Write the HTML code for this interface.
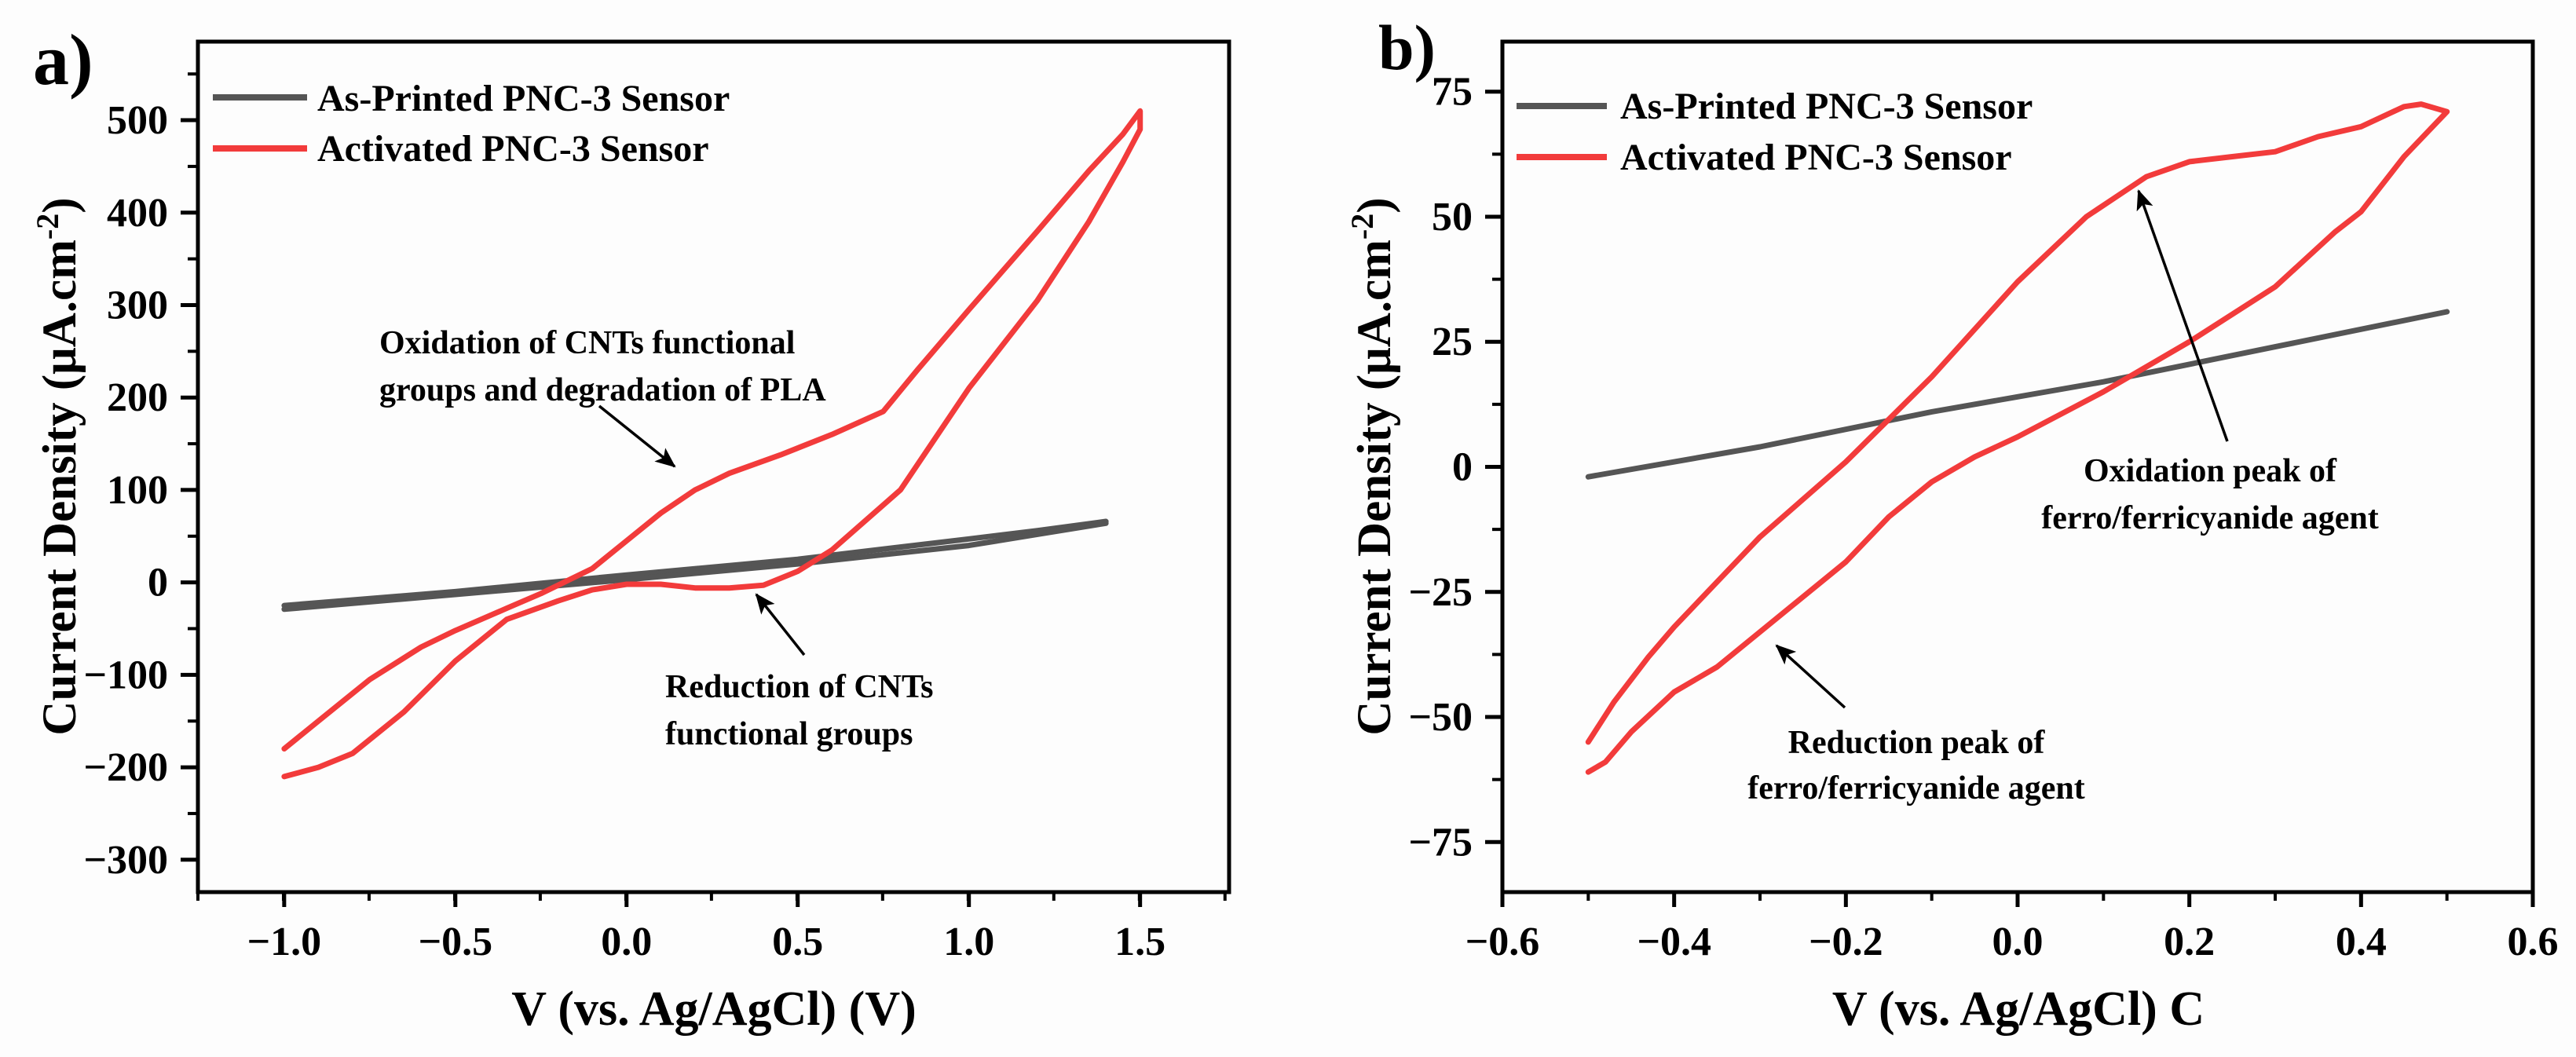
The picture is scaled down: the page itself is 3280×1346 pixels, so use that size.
<!DOCTYPE html>
<html><head><meta charset="utf-8"><style>
html,body{margin:0;padding:0;background:#fdfdfd;}
svg{display:block;font-family:"Liberation Serif",serif;font-weight:bold;}
</style></head><body>
<svg id="fig" width="3280" height="1346" viewBox="0 0 3280 1346" xmlns="http://www.w3.org/2000/svg">
<rect width="3280" height="1346" fill="#fdfdfd"/>
<g id="pa"></g>
<g id="pb"></g>
</svg>
<script>
// Panel a data
const aGrayFwdV = [-1.0,-0.5,0.0,0.5,1.0,1.2,1.4];
const aGrayFwdI = [-25,-10,8,25,47,56,66];
const aGrayRevV = [1.4,1.2,1.0,0.5,0.0,-0.5,-1.0];
const aGrayRevI = [64,52,40,20,3,-13,-29];
const aRedV = [-1.0,-0.9,-0.75,-0.6,-0.5,-0.35,-0.25,-0.1,0.0,0.1,0.2,0.3,0.45,0.6,0.75,0.85,1.0,1.2,1.35,1.45,1.5,1.5,1.45,1.35,1.2,1.0,0.8,0.6,0.5,0.4,0.3,0.2,0.1,0.0,-0.1,-0.2,-0.35,-0.5,-0.65,-0.8,-0.9,-1.0];
const aRedI = [-180,-150,-105,-70,-52,-28,-12,15,45,75,100,118,138,160,185,230,295,380,445,485,510,490,455,390,305,210,100,35,12,-3,-6,-6,-2,-2,-8,-20,-40,-85,-140,-185,-200,-210];
const aXTicks = [-1.0,-0.5,0.0,0.5,1.0,1.5];
const aXLabels = ["\u22121.0","\u22120.5","0.0","0.5","1.0","1.5"];
const aYTicks = [-300,-200,-100,0,100,200,300,400,500];
const aYLabels = ["\u2212300","\u2212200","\u2212100","0","100","200","300","400","500"];
// Panel b data
const bGrayV = [-0.5,-0.3,-0.1,0.0,0.1,0.3,0.5];
const bGrayI = [-2,4,11,14,17,24,31];
const bRedV = [-0.5,-0.47,-0.43,-0.4,-0.35,-0.3,-0.2,-0.1,0.0,0.08,0.15,0.2,0.25,0.3,0.35,0.4,0.45,0.47,0.5,0.5,0.45,0.4,0.37,0.3,0.2,0.1,0.0,-0.05,-0.1,-0.15,-0.2,-0.3,-0.35,-0.4,-0.45,-0.48,-0.5];
const bRedI = [-55,-47,-38,-32,-23,-14,1,18,37,50,58,61,62,63,66,68,72,72.5,71,71,62,51,47,36,25,15,6,2,-3,-10,-19,-33,-40,-45,-53,-59,-61];
const bXTicks = [-0.6,-0.4,-0.2,0.0,0.2,0.4,0.6];
const bXLabels = ["\u22120.6","\u22120.4","\u22120.2","0.0","0.2","0.4","0.6"];
const bYTicks = [-75,-50,-25,0,25,50,75];
const bYLabels = ["\u221275","\u221250","\u221225","0","25","50","75"];

const NS="http://www.w3.org/2000/svg";
function mk(parent,tag,attrs,text){const e=document.createElementNS(NS,tag);for(const k in attrs)e.setAttribute(k,attrs[k]);if(text!==undefined)e.textContent=text;parent.appendChild(e);return e;}

function panel(g,cfg){
  const sx=v=>cfg.L+(v-cfg.x0)/(cfg.x1-cfg.x0)*(cfg.R-cfg.L);
  const sy=v=>cfg.B-(v-cfg.y0)/(cfg.y1-cfg.y0)*(cfg.B-cfg.T);
  const fr=mk(g,'rect',{x:cfg.L,y:cfg.T,width:cfg.R-cfg.L,height:cfg.B-cfg.T,fill:'none',stroke:'#000','stroke-width':5});
  
  
  cfg.xt.forEach((v,i)=>{
    const t=mk(g,'line',{x1:sx(v),x2:sx(v),y1:cfg.B,y2:cfg.B+19,stroke:'#000','stroke-width':5});
    
    
    const l=mk(g,'text',{x:sx(v),y:cfg.B+80,'font-size':52,'text-anchor':'middle'},cfg.xl[i]);
    
    
  });
  for(let v=cfg.x0;v<=cfg.x1+1e-9;v+=cfg.xm){
    const t=mk(g,'line',{x1:sx(v),x2:sx(v),y1:cfg.B,y2:cfg.B+11,stroke:'#000','stroke-width':4});
    
    
  }
  cfg.yt.forEach((v,i)=>{
    const t=mk(g,'line',{x1:cfg.L-22,x2:cfg.L,y1:sy(v),y2:sy(v),stroke:'#000','stroke-width':5});
    
    
    const l=mk(g,'text',{x:cfg.L-38,y:sy(v)+17,'font-size':52,'text-anchor':'end'},cfg.yl[i]);
    
    
  });
  for(let v=cfg.ym0;v<=cfg.y1;v+=cfg.ym){
    const t=mk(g,'line',{x1:cfg.L-13,x2:cfg.L,y1:sy(v),y2:sy(v),stroke:'#000','stroke-width':4});
    
    
  }
  const path=(vs,is)=>vs.map((v,i)=>(i?'L':'M')+sx(v).toFixed(1)+','+sy(is[i]).toFixed(1)).join(' ');
  cfg.series.forEach(s=>{
    const p=mk(g,'path',{d:path(s.v,s.i),fill:'none',stroke:s.c,'stroke-width':s.w,'stroke-linejoin':'round','stroke-linecap':'round'});
    
    
  });
  return {sx,sy};
}

const ga=document.getElementById('pa');
panel(ga,{L:252,R:1565,T:53,B:1136,x0:-1.252,x1:1.76,y0:-335,y1:585,
  xt:aXTicks,xl:aXLabels,xm:0.25,yt:aYTicks,yl:aYLabels,ym0:-300,ym:50,
  series:[{v:aGrayFwdV,i:aGrayFwdI,c:'#555',w:7,name:'as-printed-forward-line'},
          {v:aGrayRevV,i:aGrayRevI,c:'#555',w:7,name:'as-printed-reverse-line'},
          {v:aRedV,i:aRedI,c:'#f23b3b',w:7,name:'activated-cv-line'}]});
const gb=document.getElementById('pb');
panel(gb,{L:1913,R:3225,T:53,B:1136,x0:-0.6,x1:0.6,y0:-85,y1:85,
  xt:bXTicks,xl:bXLabels,xm:0.1,yt:bYTicks,yl:bYLabels,ym0:-75,ym:12.5,
  series:[{v:bGrayV,i:bGrayI,c:'#555',w:7,name:'as-printed-line'},
          {v:bRedV,i:bRedI,c:'#f23b3b',w:7,name:'activated-cv-line'}]});
</script>
<svg style="position:absolute;left:0;top:0" width="3280" height="1346" viewBox="0 0 3280 1346" font-family="Liberation Serif, serif" font-weight="bold">
<defs><marker id="ah2" markerWidth="26" markerHeight="22" refX="24" refY="11" orient="auto" markerUnits="userSpaceOnUse" viewBox="0 0 26 22"><path d="M0,0 L26,11 L0,22 L6,11 z" fill="#000"/></marker></defs>
<text x="42" y="107" font-size="92">a)</text>
<line x1="271" y1="124" x2="391" y2="124" stroke="#555" stroke-width="8"/>
<text x="404" y="141" font-size="48">As-Printed PNC-3 Sensor</text>
<line x1="271" y1="189" x2="391" y2="189" stroke="#f23b3b" stroke-width="8"/>
<text x="404" y="205" font-size="48">Activated PNC-3 Sensor</text>
<text x="483" y="450" font-size="42"><tspan x="483">Oxidation of CNTs functional</tspan><tspan x="483" y="510">groups and degradation of PLA</tspan></text>
<line x1="763" y1="517" x2="859" y2="594" stroke="#000" stroke-width="3.5" marker-end="url(#ah2)"/>
<text x="847" y="888" font-size="42"><tspan x="847">Reduction of CNTs</tspan><tspan x="847" y="948">functional groups</tspan></text>
<line x1="1024" y1="834" x2="963" y2="757" stroke="#000" stroke-width="3.5" marker-end="url(#ah2)"/>
<text x="909" y="1305" font-size="62" text-anchor="middle">V (vs. Ag/AgCl) (V)</text>
<text transform="translate(96,594) rotate(-90)" font-size="61" text-anchor="middle">Current Density (μA.cm<tspan dy="-22" font-size="40">-2</tspan><tspan dy="22">)</tspan></text>
<text x="1755" y="88" font-size="82">b)</text>
<line x1="1931" y1="135" x2="2046" y2="135" stroke="#555" stroke-width="8"/>
<text x="2063" y="151" font-size="48">As-Printed PNC-3 Sensor</text>
<line x1="1931" y1="200" x2="2046" y2="200" stroke="#f23b3b" stroke-width="8"/>
<text x="2063" y="216" font-size="48">Activated PNC-3 Sensor</text>
<text x="2814" y="613" font-size="42" text-anchor="middle"><tspan x="2814">Oxidation peak of</tspan><tspan x="2814" y="673">ferro/ferricyanide agent</tspan></text>
<line x1="2836" y1="562" x2="2723" y2="243" stroke="#000" stroke-width="3.5" marker-end="url(#ah2)"/>
<text x="2440" y="959" font-size="42" text-anchor="middle"><tspan x="2440">Reduction peak of</tspan><tspan x="2440" y="1017">ferro/ferricyanide agent</tspan></text>
<line x1="2349" y1="901" x2="2262" y2="822" stroke="#000" stroke-width="3.5" marker-end="url(#ah2)"/>
<text x="2570" y="1305" font-size="62" text-anchor="middle">V (vs. Ag/AgCl) C</text>
<text transform="translate(1770,594) rotate(-90)" font-size="61" text-anchor="middle">Current Density (μA.cm<tspan dy="-22" font-size="40">-2</tspan><tspan dy="22">)</tspan></text>
</svg>
</body></html>
